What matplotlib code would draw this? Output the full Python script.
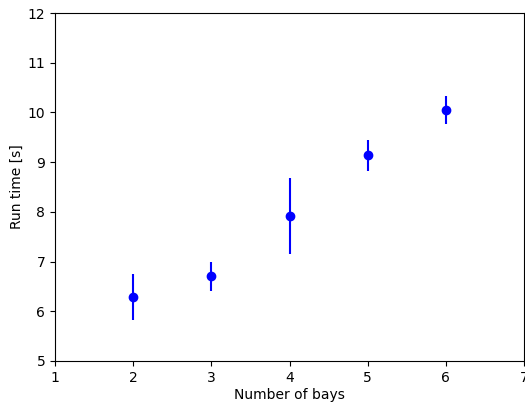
import matplotlib.pyplot as plt

# data
bays = [2, 3, 4, 5, 6]
run_time = [6.29, 6.70, 7.92, 9.14, 10.05]
run_time_err = [0.47, 0.29, 0.77, 0.31, 0.28]

fig = plt.figure(figsize=(5.25, 4.03), dpi=100)
ax = fig.add_axes([55 / 525, 42 / 403, 469 / 525, 348 / 403])

ax.errorbar(bays, run_time, yerr=run_time_err, fmt="o", color="blue")

ax.set_xlim(1, 7)
ax.set_ylim(5, 12)
ax.set_xlabel("Number of bays", labelpad=2.5)
ax.set_ylabel("Run time [s]", labelpad=2.5)

fig.savefig("out.png", dpi=100)
